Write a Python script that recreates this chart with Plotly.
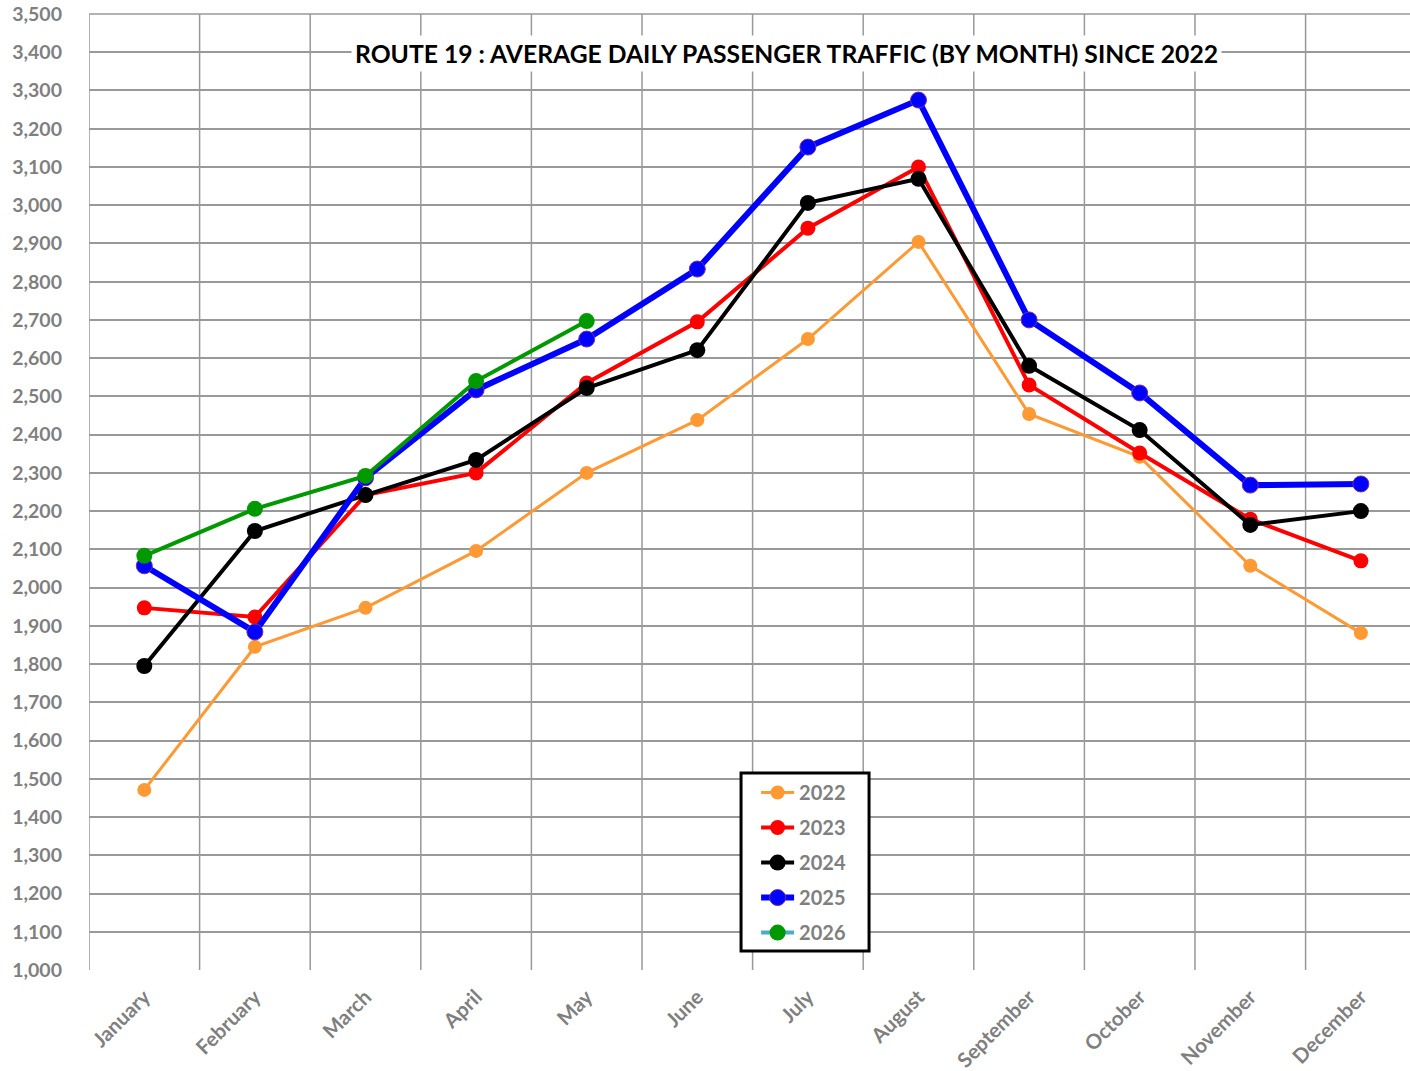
import plotly.graph_objects as go

months = ["January", "February", "March", "April", "May", "June", "July",
          "August", "September", "October", "November", "December"]

y2022 = [1471, 1845, 1947, 2096, 2300, 2438, 2650, 2904, 2454, 2342, 2057, 1881]
y2023 = [1947, 1923, 2242, 2300, 2535, 2695, 2940, 3100, 2530, 2352, 2179, 2070]
y2024 = [1795, 2148, 2242, 2334, 2522, 2621, 3006, 3069, 2580, 2412, 2164, 2200]
y2025 = [2057, 1884, 2287, 2517, 2650, 2833, 3152, 3275, 2700, 2509, 2268, 2271]
y2026 = [2083, 2206, 2292, 2540, 2697]

y_ticks = list(range(1000, 3501, 100))

title_text = "ROUTE 19 : AVERAGE DAILY PASSENGER TRAFFIC (BY MONTH) SINCE 2022"

FONT = "Lato"
GRAY = "#7F7F7F"
GRID = "#999999"

fig = go.Figure()

series = [
    ("2022", y2022, "#FF9933", 3, 14),
    ("2023", y2023, "#FF0000", 4, 15),
    ("2024", y2024, "#000000", 4, 16),
    ("2025", y2025, "#0000FF", 6, 16),
]
for name, vals, col, lw, ms in series:
    fig.add_trace(go.Scatter(
        x=months[:len(vals)], y=vals, name=name, mode="lines+markers",
        line=dict(color=col, width=lw),
        marker=dict(color=col, size=ms,
                    line=dict(color="#7030A0" if name == "2025" else col,
                              width=1 if name == "2025" else 0)),
        legendgroup=name,
    ))

# 2026: green line on chart, legend shows teal line with green marker
fig.add_trace(go.Scatter(
    x=months[:len(y2026)], y=y2026, name="2026", mode="lines+markers",
    line=dict(color="#009900", width=4),
    marker=dict(color="#009900", size=16),
    showlegend=False, legendgroup="2026",
))
fig.add_trace(go.Scatter(
    x=[None], y=[None], name="2026", mode="lines+markers",
    line=dict(color="#4BACC6", width=4),
    marker=dict(color="#009900", size=16),
    legendgroup="2026",
))

fig.update_layout(
    width=1410, height=1071,
    margin=dict(l=89, r=0, t=14, b=101, autoexpand=False),
    paper_bgcolor="white", plot_bgcolor="white",
    showlegend=True,
    legend=dict(
        x=0.5050, y=0.206, xanchor="left", yanchor="top",
        borderwidth=0, bgcolor="rgba(0,0,0,0)",
        font=dict(family=FONT, size=20, color=GRAY, weight="bold"),
        tracegroupgap=6, traceorder="grouped",
        itemwidth=33,
    ),
    xaxis=dict(
        type="category", categoryorder="array", categoryarray=months,
        range=[-0.5, 11.444],
        showgrid=False, tickmode="array", tickvals=months,
        ticktext=["<b>%s</b>" % m for m in months],
        tickangle=-45,
        tickfont=dict(family=FONT, size=20.5, color=GRAY),
        showline=False, zeroline=False, ticks="",
        automargin=False, ticklabelstandoff=10,
    ),
    yaxis=dict(
        range=[1000, 3500],
        tickmode="array", tickvals=y_ticks,
        ticktext=["<b>{:,}</b>".format(v) for v in y_ticks],
        showgrid=True, gridcolor=GRID, gridwidth=1.5,
        tickfont=dict(family=FONT, size=19.5, color=GRAY),
        showline=False, zeroline=False, ticks="",
        ticklabelstandoff=26, automargin=False,
        ticklabeloverflow="allow",
    ),
    annotations=[dict(
        text="<b>%s</b>" % title_text, x=0.528, y=0.959, xref="paper", yref="paper",
        xanchor="center", yanchor="middle", showarrow=False,
        font=dict(family=FONT, size=24.7, color="black"),
        bgcolor="white", borderpad=3,
    )],
)

# category boundary grid lines (vertical)
for i in range(len(months) + 1):
    fig.add_shape(type="line", xref="x", yref="paper",
                  x0=i - 0.5, x1=i - 0.5, y0=0, y1=1,
                  line=dict(color=GRID, width=1.5), layer="below")
# top border gridline
fig.add_shape(type="line", xref="paper", yref="paper", x0=0, x1=1, y0=1, y1=1,
              line=dict(color=GRID, width=1.5), layer="below")

# legend frame
fig.add_shape(type="rect", xref="paper", yref="paper",
              x0=0.4936, x1=0.5905, y0=0.0199, y1=0.2061,
              line=dict(color="black", width=3), fillcolor="white", layer="above")

fig.write_html("out.html",
               config={"displayModeBar": False},
               post_script="document.body.style.margin='0px';document.body.style.overflow='hidden';")
